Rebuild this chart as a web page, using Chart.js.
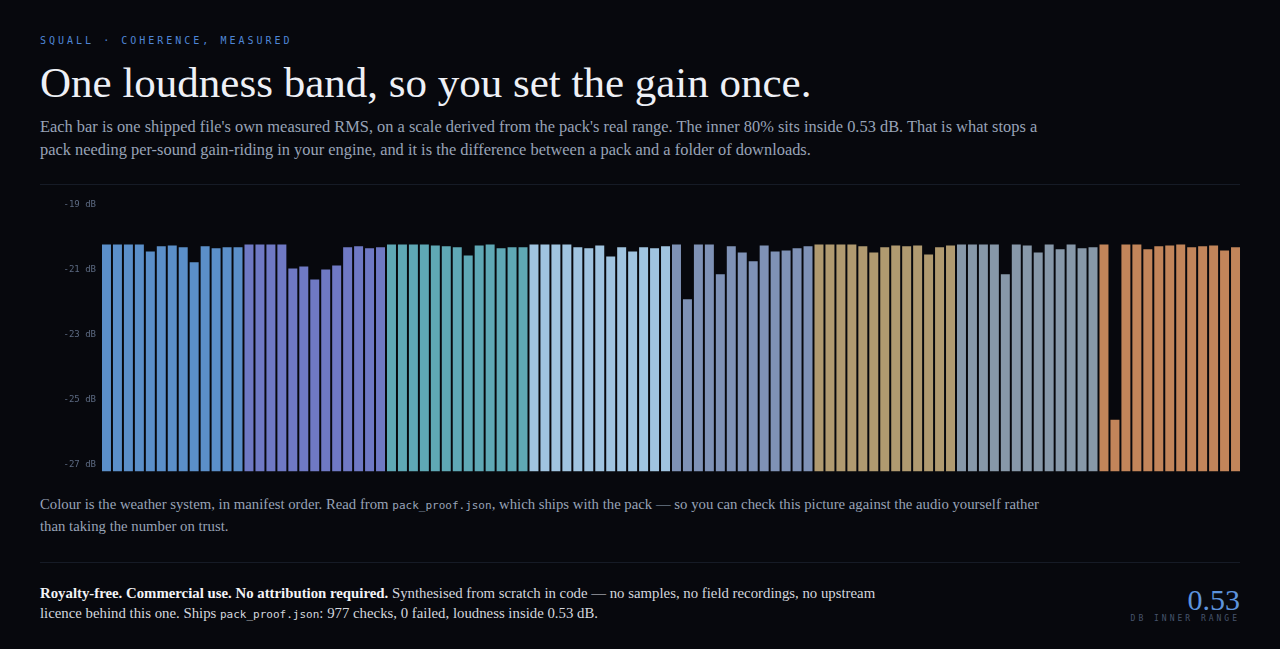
<!DOCTYPE html>
<html>
<head>
<meta charset="utf-8">
<script src="https://cdn.jsdelivr.net/npm/chart.js@4/dist/chart.umd.min.js"></script>
<style>
  html, body { margin: 0; padding: 0; background: #07080d; }
  body { width: 1280px; height: 649px; position: relative; overflow: hidden; font-family: "Liberation Serif", Georgia, serif; }
  .eyebrow { position: absolute; left: 40px; top: 35px; font: 10px "DejaVu Sans Mono", monospace; letter-spacing: 3px; color: #4f86d6; white-space: nowrap; }
  h1 { position: absolute; left: 40px; top: 59px; margin: 0; font-weight: normal; font-size: 43px; line-height: 48px; color: #eef0f6; white-space: nowrap; }
  .lede { position: absolute; left: 40px; top: 115px; margin: 0; font-size: 16.4px; line-height: 23px; color: #98a3b7; white-space: nowrap; }
  .rule { position: absolute; left: 40px; width: 1200px; height: 1px; background: #161b26; }
  #wrap { position: absolute; left: 40px; top: 187px; width: 1202px; height: 295px; }
  .caption { position: absolute; left: 40px; top: 494px; margin: 0; font-size: 14.75px; line-height: 21px; color: #98a3b7; white-space: nowrap; }
  code { font-family: "DejaVu Sans Mono", monospace; font-size: 11px; }
  .foot { position: absolute; left: 40px; top: 583px; margin: 0; font-size: 14.8px; line-height: 20px; color: #d3d7df; white-space: nowrap; }
  .foot b { color: #f2f3f7; }
  .stat { position: absolute; right: 40px; top: 585px; text-align: right; }
  .stat .num { font-size: 30px; line-height: 30px; color: #5d93dc; }
  .stat .lbl { font: 8px "DejaVu Sans Mono", monospace; letter-spacing: 3px; color: #46546c; margin-top: -1px; }
</style>
</head>
<body>
<div class="eyebrow">SQUALL · COHERENCE, MEASURED</div>
<h1>One loudness band, so you set the gain once.</h1>
<p class="lede">Each bar is one shipped file's own measured RMS, on a scale derived from the pack's real range. The inner 80% sits inside 0.53 dB. That is what stops a<br>pack needing per-sound gain-riding in your engine, and it is the difference between a pack and a folder of downloads.</p>
<div class="rule" style="top:184px"></div>
<div id="wrap"><canvas id="bands"></canvas></div>
<p class="caption">Colour is the weather system, in manifest order. Read from <code>pack_proof.json</code>, which ships with the pack — so you can check this picture against the audio yourself rather<br>than taking the number on trust.</p>
<div class="rule" style="top:562px"></div>
<p class="foot"><b>Royalty-free. Commercial use. No attribution required.</b> Synthesised from scratch in code — no samples, no field recordings, no upstream<br>licence behind this one. Ships <code>pack_proof.json</code>: 977 checks, 0 failed, loudness inside 0.53 dB.</p>
<div class="stat"><div class="num">0.53</div><div class="lbl">DB INNER RANGE</div></div>

<script>
// measured RMS per file (dB), one array per weather system, manifest order
const system1 = [-20.23, -20.23, -20.23, -20.23, -20.45, -20.29, -20.26, -20.32, -20.78, -20.29, -20.35, -20.32, -20.32];
const system2 = [-20.23, -20.23, -20.23, -20.23, -20.97, -20.91, -21.31, -21.00, -20.88, -20.32, -20.29, -20.35, -20.32];
const system3 = [-20.23, -20.23, -20.23, -20.23, -20.26, -20.29, -20.32, -20.57, -20.26, -20.23, -20.35, -20.32, -20.32];
const system4 = [-20.23, -20.23, -20.23, -20.23, -20.32, -20.35, -20.26, -20.60, -20.32, -20.45, -20.32, -20.35, -20.29];
const system5 = [-20.23, -21.92, -20.23, -20.23, -21.15, -20.29, -20.48, -20.75, -20.26, -20.45, -20.42, -20.35, -20.29];
const system6 = [-20.23, -20.23, -20.23, -20.23, -20.29, -20.48, -20.32, -20.26, -20.29, -20.26, -20.54, -20.32, -20.26];
const system7 = [-20.23, -20.23, -20.23, -20.23, -21.15, -20.23, -20.26, -20.48, -20.23, -20.38, -20.23, -20.35, -20.32];
const system8 = [-20.23, -25.62, -20.23, -20.23, -20.38, -20.29, -20.26, -20.23, -20.32, -20.29, -20.26, -20.42, -20.32];

const systems = [system1, system2, system3, system4, system5, system6, system7, system8];
const systemColours = ['#5b8fc9', '#6f79c4', '#5fa8b5', '#a0c4e0', '#7f92b6', '#b09a70', '#8798a9', '#c2855a'];
const yTicks = [-19, -21, -23, -25, -27];

const values = [];
const colours = [];
const labels = [];
systems.forEach((s, i) => {
    s.forEach((v, j) => {
        values.push(v);
        colours.push(systemColours[i]);
        labels.push('S' + (i + 1) + '-' + (j + 1));
    });
});

Chart.defaults.font.family = '"DejaVu Sans Mono", monospace';

new Chart(document.getElementById('bands'), {
    type: 'bar',
    data: {
        labels: labels,
        datasets: [{
            data: values,
            backgroundColor: colours,
            borderWidth: 0,
            barPercentage: 0.82,
            categoryPercentage: 1,
            base: -27.215
        }]
    },
    options: {
        responsive: true,
        maintainAspectRatio: false,
        animation: false,
        layout: { padding: { top: 5, bottom: 5, right: 1 } },
        plugins: { legend: { display: false }, tooltip: { enabled: false } },
        scales: {
            x: { display: false },
            y: {
                min: -27.215,
                max: -18.785,
                afterBuildTicks: axis => { axis.ticks = yTicks.map(v => ({ value: v })); },
                afterFit: axis => { axis.width = 61; },
                grid: { display: false, drawTicks: false },
                border: { display: false },
                ticks: {
                    padding: 5,
                    color: '#5c6a82',
                    font: { size: 9 },
                    callback: v => v + ' dB'
                }
            }
        }
    }
});
</script>
</body>
</html>
